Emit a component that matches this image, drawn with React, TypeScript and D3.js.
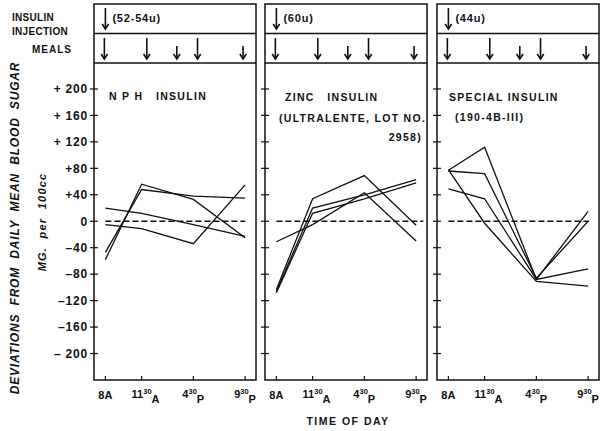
import React from 'react';
import * as d3 from 'd3';

// hours of the day for the 4 blood samples
const times = [8, 11.5, 16.5, 21.5];
const tickMain = ['8', '11', '4', '9'];
const tickSup = ['', '30', '30', '30'];
const tickSuffix = ['A', 'A', 'P', 'P'];

const yTicks = [200, 160, 120, 80, 40, 0, -40, -80, -120, -160, -200];
const yTickLabels = ['+ 200', '+ 160', '+ 120', '+80', '+40', '0', '\u201340', '\u201380', '\u2013120', '\u2013160', '\u2013 200'];

const injectionTime = 8;
const injectionDoses = ['(52-54u)', '(60u)', '(44u)'];
const mealTimes = [7.9, 12, 14.9, 16.9, 21.3];
const mealLarge = [true, true, false, true, false];

const panelTitles = [
  ['N P H   INSULIN'],
  ['ZINC   INSULIN', '(ULTRALENTE, LOT NO.', '2958)'],
  ['SPECIAL INSULIN', '(190-4B-III)'],
];

// deviations (mg per 100cc) at each sample time, one row per patient
const nphSeries = [
  [-58, 56, 33, -25],
  [-47, 48, 38, 35],
  [20, 12, -5, -23],
  [-5, -11, -34, 55],
];
const zincSeries = [
  [-31, -5, 43, -30],
  [-103, 34, 69, -6],
  [-106, 20, 40, 63],
  [-108, 12, 34, 58],
];
const specialSeries = [
  [77, 112, -88, 15],
  [76, 72, -86, 0],
  [49, 34, -88, -72],
  [78, -3, -91, -98],
];
const zeroLineEnd = [21.5, 22.2, 21.6];

const allSeries = [nphSeries, zincSeries, specialSeries];

const FONT = '"Liberation Sans", Arial, sans-serif';
const panelLefts = [94, 265, 437];
const panelW = 162;
const headTop = 4, headMid = 33.5, plotTop = 63, plotBottom = 380;

// title placement (relative to panel left)
const titleLayout = [
  [{ x: 15, y: 100, a: 'start' }],
  [{ x: 20, y: 101, a: 'start' }, { x: 14, y: 122, a: 'start' }, { x: 157, y: 141, a: 'end' }],
  [{ x: 12, y: 101, a: 'start' }, { x: 18, y: 121, a: 'start' }],
];

function Arrow({ x, y1, y2 }: { x: number; y1: number; y2: number }) {
  return (
    <g stroke="#111" strokeWidth={1.6} fill="none">
      <line x1={x} x2={x} y1={y1} y2={y2} />
      <path d={`M${x - 3.2},${y2 - 5} L${x},${y2} L${x + 3.2},${y2 - 5}`} />
    </g>
  );
}

export default function App() {
  const x = d3.scaleLinear().domain([6.9, 22.55]).range([0, panelW]);
  const y = d3.scaleLinear().domain([-240, 240]).range([plotBottom, 62.5]);
  const line = d3.line<number>()
    .x((d, i) => x(times[i]))
    .y(d => y(d));

  return (
    <svg width={608} height={431} style={{ position: 'absolute', left: 0, top: 0, background: '#fff' }}
      fontFamily={FONT} fontWeight="bold" fill="#111">
      {/* left header labels */}
      <text x={12} y={21} fontSize={10} letterSpacing={0.3}>INSULIN</text>
      <text x={12} y={35} fontSize={10} letterSpacing={0.3}>INJECTION</text>
      <text x={32} y={53} fontSize={10} letterSpacing={1}>MEALS</text>

      {/* y axis titles */}
      <text transform="translate(15,228) rotate(-90)" textAnchor="middle" dy="0.35em"
        fontSize={12} fontStyle="italic" letterSpacing={0.8} style={{ whiteSpace: 'pre' }}>
        DEVIATIONS  FROM  DAILY  MEAN  BLOOD  SUGAR
      </text>
      <text transform="translate(42,222) rotate(-90)" textAnchor="middle" dy="0.35em"
        fontSize={11} fontStyle="italic" letterSpacing={1.2} style={{ whiteSpace: 'pre' }}>
        MG.  per  100cc
      </text>

      {yTicks.map((t, i) => (
        <text key={t} x={88} y={y(t)} dy="0.36em" textAnchor="end" fontSize={12} letterSpacing={0.8}
          style={{ whiteSpace: 'pre' }}>
          {yTickLabels[i]}
        </text>
      ))}

      {allSeries.map((series, p) => {
        const left = panelLefts[p];
        return (
          <g key={p} transform={`translate(${left},0)`}>
            <rect x={0} y={headTop} width={panelW} height={plotBottom - headTop}
              fill="none" stroke="#111" strokeWidth={1.5} />
            <line x1={0} x2={panelW} y1={headMid} y2={headMid} stroke="#111" strokeWidth={1.5} />
            <line x1={0} x2={panelW} y1={plotTop} y2={plotTop} stroke="#111" strokeWidth={1.5} />

            <Arrow x={x(injectionTime)} y1={8} y2={29} />
            <text x={x(injectionTime) + 7} y={22} fontSize={11} letterSpacing={0.8}>{injectionDoses[p]}</text>
            {mealTimes.map((m, i) => (
              <Arrow key={i} x={x(m)} y1={mealLarge[i] ? 38 : 46} y2={59} />
            ))}

            {yTicks.map(t => (
              <line key={t} x1={-4} x2={4} y1={y(t)} y2={y(t)} stroke="#111" strokeWidth={1.2} />
            ))}
            {times.map(t => (
              <line key={t} x1={x(t)} x2={x(t)} y1={plotBottom} y2={plotBottom - 4} stroke="#111" strokeWidth={1.2} />
            ))}

            {panelTitles[p].map((s, i) => (
              <text key={i} x={titleLayout[p][i].x} y={titleLayout[p][i].y}
                textAnchor={titleLayout[p][i].a} fontSize={10.5} letterSpacing={1.3}
                style={{ whiteSpace: 'pre' }}>{s}</text>
            ))}

            <line x1={x(8)} x2={x(zeroLineEnd[p])} y1={y(0)} y2={y(0)}
              stroke="#111" strokeWidth={1.5} strokeDasharray="6,3" />
            {series.map((s, i) => (
              <path key={i} d={line(s) || ''} fill="none" stroke="#111" strokeWidth={1.3} />
            ))}

            {times.map((t, i) => (
              tickSup[i] === '' ? (
                <text key={i} x={x(t)} y={399} textAnchor="middle" fontSize={11}>
                  {tickMain[i]}{tickSuffix[i]}
                </text>
              ) : (
                <text key={i} x={x(t) - (tickMain[i].length > 1 ? 10 : 11)} y={398} fontSize={11}>
                  {tickMain[i]}
                  <tspan fontSize={7.5} dy={-4}>{tickSup[i]}</tspan>
                  <tspan dy={9}>{tickSuffix[i]}</tspan>
                </text>
              )
            ))}
          </g>
        );
      })}

      <text x={348} y={425} textAnchor="middle" fontSize={10.5} letterSpacing={1.5}>TIME OF DAY</text>
    </svg>
  );
}
